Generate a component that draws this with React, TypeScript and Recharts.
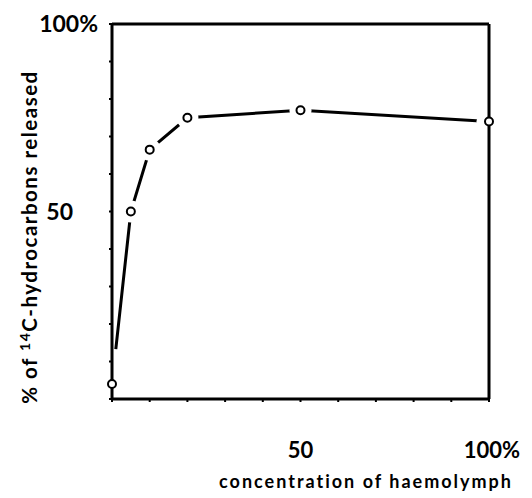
import { ComposedChart, Label, Line, ReferenceLine, Scatter, XAxis, YAxis } from 'recharts';

// haemolymph concentration (%) vs. % of 14C-hydrocarbons released
const concentration = [0, 5, 10, 20, 50, 100];
const released = [4, 50, 66.5, 75, 77, 74];

const xTicks = [0, 10, 20, 30, 40, 50, 60, 70, 80, 90, 100];
const yTicks = [0, 10, 20, 30, 40, 50, 60, 70, 80, 90, 100];
const xTickLabels: Record<number, string> = { 50: '50', 100: '100%' };
const yTickLabels: Record<number, string> = { 50: '50', 100: '100%' };

const data = concentration.map((x, i) => ({ x, y: released[i] }));

const FONT = 'Lato, "DejaVu Sans", sans-serif';
const GAP = 11;

function XTick({ x, y, payload }: any) {
  const text = xTickLabels[payload.value];
  if (!text) return null;
  return (
    <text
      x={x + (payload.value === 100 ? 3 : 0)}
      y={y + 56}
      textAnchor="middle"
      fontFamily={FONT}
      fontWeight={700}
      fontSize={22}
      fill="#000"
    >
      {text}
    </text>
  );
}

function YTick({ x, y, payload }: any) {
  const text = yTickLabels[payload.value];
  if (!text) return null;
  return (
    <text
      x={x + (payload.value === 100 ? -11 : -36)}
      y={y + 8}
      textAnchor="end"
      fontFamily={FONT}
      fontWeight={700}
      fontSize={23}
      fill="#000"
    >
      {text}
    </text>
  );
}

// open circle with a white gap around it, like the hand-drawn original.
// first point sits on the y axis (gap comes from the dash pattern instead),
// last point sits on the right frame so only its left side is masked
function HollowDot({ cx, cy, payload }: any) {
  const px = payload ? payload.x : undefined;
  let halo = null;
  if (px === 100) {
    halo = <circle cx={cx - 7} cy={cy} r={5.5} fill="#fff" stroke="none" />;
  } else if (px !== 0) {
    halo = <circle cx={cx} cy={cy} r={GAP} fill="#fff" stroke="none" />;
  }
  return (
    <g>
      {halo}
      <circle cx={cx} cy={cy} r={4} fill="#fff" stroke="#000" strokeWidth={2} />
    </g>
  );
}

export default function App() {
  return (
    <div style={{ position: 'absolute', left: 0, top: 0, background: '#fff' }}>
      <ComposedChart
        width={532}
        height={498}
        data={data}
        margin={{ top: 24, right: 43, bottom: 0, left: 0 }}
      >
        <XAxis
          dataKey="x"
          type="number"
          domain={[0, 100]}
          ticks={xTicks}
          interval={0}
          height={99}
          tickSize={3}
          tickMargin={0}
          axisLine={{ stroke: '#000', strokeWidth: 3 }}
          tickLine={{ stroke: '#000', strokeWidth: 2 }}
          tick={<XTick />}
        >
          <Label
            content={() => (
              <text
                x={366}
                y={488}
                textAnchor="middle"
                fontFamily={FONT}
                fontWeight={700}
                fontSize={18}
                letterSpacing={2}
                fill="#000"
              >
                concentration of haemolymph
              </text>
            )}
          />
        </XAxis>
        <YAxis
          type="number"
          domain={[0, 100]}
          ticks={yTicks}
          interval={0}
          width={112}
          tickSize={3}
          tickMargin={0}
          axisLine={{ stroke: '#000', strokeWidth: 3 }}
          tickLine={{ stroke: '#000', strokeWidth: 2 }}
          tick={<YTick />}
        >
          <Label
            content={() => (
              <text
                x={37}
                y={237}
                transform="rotate(-90, 37, 237)"
                textAnchor="middle"
                fontFamily={FONT}
                fontWeight={700}
                fontSize={20.5}
                letterSpacing={1.5}
                fill="#000"
              >
                % of <tspan dy={-7} fontSize={14}>14</tspan>
                <tspan dy={7}>C-hydrocarbons released</tspan>
              </text>
            )}
          />
        </YAxis>
        <ReferenceLine y={100} stroke="#000" strokeWidth={3} />
        <ReferenceLine x={100} stroke="#000" strokeWidth={3} />
        <Line
          dataKey="y"
          stroke="#000"
          strokeWidth={3}
          strokeDasharray="0 35 2000"
          dot={false}
          activeDot={false}
          isAnimationActive={false}
        />
        <Scatter dataKey="y" shape={<HollowDot />} isAnimationActive={false} />
      </ComposedChart>
    </div>
  );
}
